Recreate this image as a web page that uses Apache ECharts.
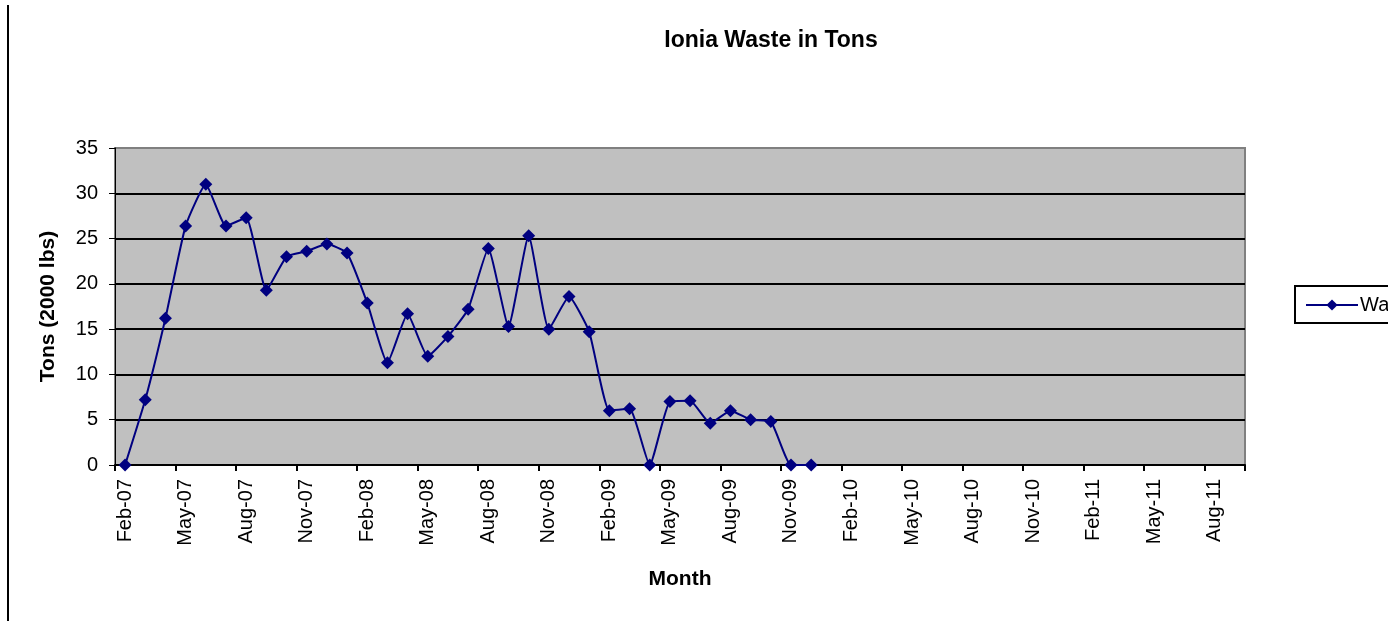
<!DOCTYPE html>
<html>
<head>
<meta charset="utf-8">
<script src="https://cdn.jsdelivr.net/npm/echarts@6/dist/echarts.min.js"></script>
<style>
html,body{margin:0;padding:0;background:#fff;}
#chart{width:1388px;height:621px;}
</style>
</head>
<body>
<div id="chart"></div>
<script>
var months = [
  'Feb-07','Mar-07','Apr-07','May-07','Jun-07','Jul-07','Aug-07','Sep-07','Oct-07','Nov-07','Dec-07','Jan-08',
  'Feb-08','Mar-08','Apr-08','May-08','Jun-08','Jul-08','Aug-08','Sep-08','Oct-08','Nov-08','Dec-08','Jan-09',
  'Feb-09','Mar-09','Apr-09','May-09','Jun-09','Jul-09','Aug-09','Sep-09','Oct-09','Nov-09','Dec-09','Jan-10',
  'Feb-10','Mar-10','Apr-10','May-10','Jun-10','Jul-10','Aug-10','Sep-10','Oct-10','Nov-10','Dec-10','Jan-11',
  'Feb-11','Mar-11','Apr-11','May-11','Jun-11','Jul-11','Aug-11','Sep-11'
];
var wasteTons = [
  0, 7.2, 16.2, 26.4, 31.0, 26.4, 27.3, 19.3, 23.0, 23.6, 24.4, 23.4,
  17.9, 11.3, 16.7, 12.0, 14.2, 17.2, 23.9, 15.3, 25.3, 15.0, 18.6, 14.7,
  6.0, 6.2, 0, 7.0, 7.1, 4.6, 6.0, 5.0, 4.8, 0, 0, null,
  null, null, null, null, null, null, null, null, null, null, null, null,
  null, null, null, null, null, null, null, null
];
var yTicks = { min: 0, max: 35, interval: 5 };

var chart = echarts.init(document.getElementById('chart'), null, { renderer: 'canvas' });
var font = '"Liberation Sans", Arial, sans-serif';
chart.setOption({
  backgroundColor: '#ffffff',
  animation: false,
  title: {
    text: 'Ionia Waste in Tons',
    left: 766, top: 24, textAlign: 'center',
    textStyle: { fontFamily: font, fontSize: 23, fontWeight: 'bold', color: '#000' }
  },
  legend: {
    orient: 'vertical',
    left: 1295, top: 286,
    borderColor: '#000', borderWidth: 2,
    padding: [9, 8, 8, 10],
    itemWidth: 52, itemHeight: 14,
    itemGap: 0,
    textStyle: { fontFamily: font, fontSize: 20, color: '#000', padding: [0, 0, 0, -3] },
    data: ['Waste']
  },
  grid: {
    left: 115, right: 143, top: 148, bottom: 156,
    show: true, backgroundColor: '#C0C0C0', borderColor: '#808080', borderWidth: 2
  },
  xAxis: {
    type: 'category',
    data: months,
    boundaryGap: true,
    name: 'Month', nameLocation: 'middle', nameGap: 104,
    nameTextStyle: { fontFamily: font, fontSize: 21, fontWeight: 'bold', color: '#000', verticalAlign: 'top' },
    axisLine: { show: true, lineStyle: { color: '#000', width: 2 } },
    axisTick: { show: true, interval: 2, alignWithLabel: false, length: 6, lineStyle: { color: '#000', width: 2 } },
    axisLabel: { interval: 2, rotate: 90, margin: 14, fontFamily: font, fontSize: 20, color: '#000' },
    splitLine: { show: false }
  },
  yAxis: {
    type: 'value',
    min: yTicks.min, max: yTicks.max, interval: yTicks.interval,
    name: 'Tons (2000 lbs)', nameLocation: 'middle', nameGap: 56, nameRotate: 90,
    nameTextStyle: { fontFamily: font, fontSize: 21, fontWeight: 'bold', color: '#000' },
    axisLine: { show: true, lineStyle: { color: '#000', width: 1 } },
    axisTick: { show: true, length: 6, lineStyle: { color: '#000', width: 1 } },
    axisLabel: { margin: 17, fontFamily: font, fontSize: 20, color: '#000' },
    splitLine: { show: true, lineStyle: { color: ['#000','#000','#000','#000','#000','#000','#000','#808080'], width: 2 } }
  },
  series: [{
    name: 'Waste',
    type: 'line',
    data: wasteTons,
    smooth: 0.15,
    connectNulls: false,
    symbol: 'diamond',
    symbolSize: 13,
    showAllSymbol: true,
    lineStyle: { color: '#000080', width: 2 },
    itemStyle: { color: '#000080' }
  }],
  graphic: [{
    type: 'line',
    shape: { x1: 8, y1: 5, x2: 8, y2: 621 },
    style: { stroke: '#000', lineWidth: 2 }
  }]
});
</script>
</body>
</html>
